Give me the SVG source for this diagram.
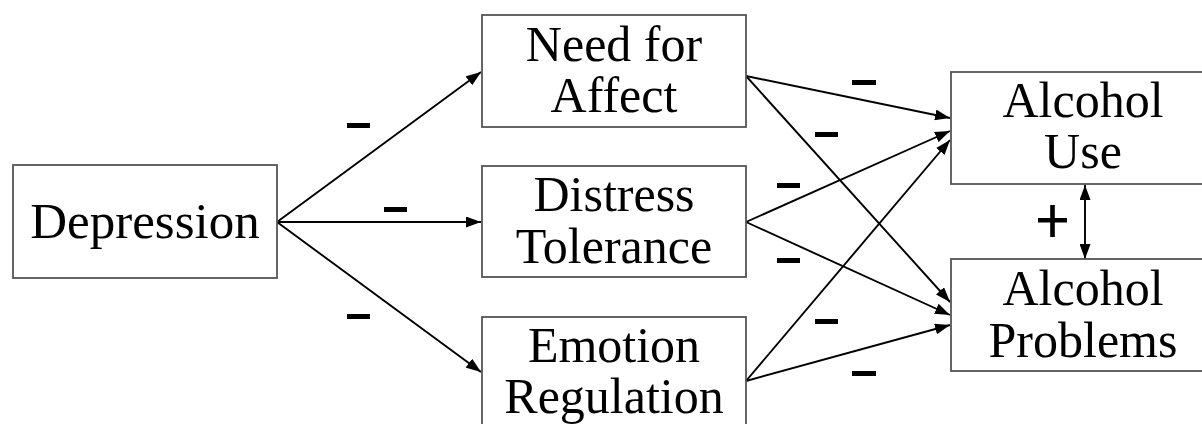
<svg xmlns="http://www.w3.org/2000/svg" width="1202" height="424" viewBox="0 0 1202 424">
<style>
.box{fill:#fff;stroke:#555;stroke-width:1.8}
.lbl{font-family:"Liberation Serif","Times New Roman",serif;font-size:50px;fill:#000;text-anchor:middle}
.edge{stroke:#000;stroke-width:1.9;fill:none;marker-end:url(#ah)}
.sign{fill:#000}
</style>
<defs>
<marker id="ah" viewBox="0 0 15 11" refX="15" refY="5.5" markerWidth="15" markerHeight="11" markerUnits="userSpaceOnUse" orient="auto-start-reverse">
<path d="M0,0 L15,5.5 L0,11 Z" fill="#000"/>
</marker>
</defs>
<rect width="1202" height="424" fill="#fff"/>
<g id="connectors">
<line class="edge" x1="277" y1="222" x2="481" y2="72"/>
<line class="edge" x1="277" y1="222" x2="481" y2="222"/>
<line class="edge" x1="277" y1="222" x2="481" y2="372"/>
<line class="edge" x1="746" y1="76" x2="950" y2="118"/>
<line class="edge" x1="746" y1="76" x2="950" y2="302"/>
<line class="edge" x1="746" y1="222" x2="950" y2="131"/>
<line class="edge" x1="746" y1="222" x2="950" y2="315"/>
<line class="edge" x1="746" y1="381" x2="950" y2="140"/>
<line class="edge" x1="746" y1="381" x2="950" y2="325"/>
<line class="edge" x1="1085" y1="185" x2="1085" y2="259" style="marker-start:url(#ah)"/>
<g id="signs" class="sign">
<rect x="347" y="123" width="23" height="5"/>
<rect x="384" y="207" width="23" height="5"/>
<rect x="347" y="314" width="23" height="5"/>
<rect x="852" y="80" width="24" height="5"/>
<rect x="815" y="132" width="23" height="5"/>
<rect x="777" y="183" width="23" height="5"/>
<rect x="777" y="258" width="23" height="5"/>
<rect x="815" y="319" width="23" height="5"/>
<rect x="852" y="371" width="24" height="5"/>
<rect x="1038" y="218" width="29" height="4.5"/>
<rect x="1050.2" y="205" width="4.6" height="32"/>
</g>
</g>
<g id="depression">
<rect class="box" x="13" y="165" width="264" height="113"/>
<text class="lbl" x="145" y="238" style="font-size:51px">Depression</text>
</g>
<g id="need-for-affect">
<rect class="box" x="482" y="15" width="264" height="112"/>
<text class="lbl" x="614" y="61">Need for</text>
<text class="lbl" x="614" y="112">Affect</text>
</g>
<g id="distress-tolerance">
<rect class="box" x="482" y="166" width="264" height="111"/>
<text class="lbl" x="614" y="211">Distress</text>
<text class="lbl" x="614" y="263">Tolerance</text>
</g>
<g id="emotion-regulation">
<rect class="box" x="482" y="317" width="264" height="120"/>
<text class="lbl" x="614" y="362">Emotion</text>
<text class="lbl" x="614" y="413">Regulation</text>
</g>
<g id="alcohol-use">
<rect class="box" x="951" y="72" width="260" height="112"/>
<text class="lbl" x="1083" y="117">Alcohol</text>
<text class="lbl" x="1083" y="168">Use</text>
</g>
<g id="alcohol-problems">
<rect class="box" x="951" y="259" width="260" height="112"/>
<text class="lbl" x="1083" y="305">Alcohol</text>
<text class="lbl" x="1083" y="357">Problems</text>
</g>
</svg>
